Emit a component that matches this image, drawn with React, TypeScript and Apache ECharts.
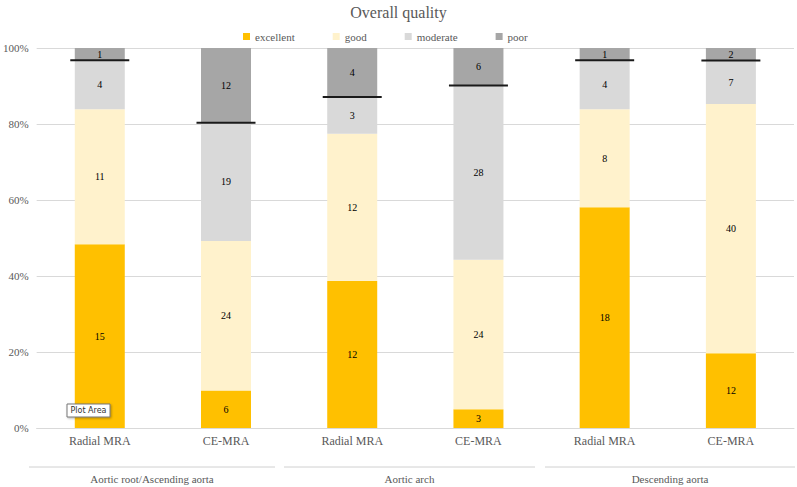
import React, { useEffect, useRef } from "react";
import * as echarts from "echarts";

const categories = ["Radial MRA", "CE-MRA", "Radial MRA", "CE-MRA", "Radial MRA", "CE-MRA"];
const groups = ["Aortic root/Ascending aorta", "Aortic arch", "Descending aorta"];
const excellent = [15, 6, 12, 3, 18, 12];
const good = [11, 24, 12, 24, 8, 40];
const moderate = [4, 19, 3, 28, 4, 7];
const poor = [1, 12, 4, 6, 1, 2];
const seriesNames = ["excellent", "good", "moderate", "poor"];
const colors = ["#FFC000", "#FFF2CC", "#D9D9D9", "#A6A6A6"];

const FONT = "Liberation Serif";

export default function App() {
  const ref = useRef<HTMLDivElement>(null);
  useEffect(() => {
    if (!ref.current) return;
    const chart = echarts.init(ref.current, null, { renderer: "svg" });
    const counts = [excellent, good, moderate, poor];
    const totals = categories.map((_, i) => counts.reduce((s, a) => s + a[i], 0));
    const pct = counts.map((arr) => arr.map((v, i) => (v / totals[i]) * 100));
    const lineLevels = categories.map((_, i) => [i, pct[0][i] + pct[1][i] + pct[2][i]]);

    const barSeries = counts.map((arr, k) => ({
      name: seriesNames[k],
      type: "bar",
      stack: "total",
      barWidth: 50,
      itemStyle: { color: colors[k] },
      label: {
        show: true,
        position: "inside",
        fontFamily: FONT,
        fontSize: 10,
        fontWeight: "normal",
        color: "#000",
        formatter: (p: any) => String(arr[p.dataIndex]),
      },
      data: pct[k],
    }));

    const groupLines = [
      { x1: 29, x2: 275 },
      { x1: 284, x2: 535 },
      { x1: 545, x2: 795 },
    ];

    chart.setOption({
      animation: false,
      textStyle: { fontFamily: FONT },
      title: {
        text: "Overall quality",
        left: "center",
        top: -1,
        textStyle: { fontFamily: FONT, fontSize: 16, fontWeight: "normal", color: "#595959" },
      },
      legend: {
        data: seriesNames,
        left: 238,
        top: 26,
        itemWidth: 7,
        itemHeight: 7,
        itemGap: 38,
        icon: "rect",
        textStyle: { fontFamily: FONT, fontSize: 11, fontWeight: "normal", color: "#595959" },
      },
      grid: { left: 35, right: 3, top: 48, bottom: 59 },
      xAxis: {
        type: "category",
        data: categories,
        axisLine: { show: true, lineStyle: { color: "#D9D9D9" } },
        axisTick: { show: false },
        axisLabel: { fontFamily: FONT, fontSize: 12, fontWeight: "normal", color: "#595959", margin: 7 },
      },
      yAxis: {
        type: "value",
        min: 0,
        max: 100,
        interval: 20,
        axisLine: { show: false },
        axisTick: { show: false },
        splitLine: { lineStyle: { color: "#D9D9D9" } },
        axisLabel: { fontFamily: FONT, fontSize: 11, fontWeight: "normal", color: "#595959", formatter: "{value}%", margin: 8 },
      },
      series: [
        ...barSeries,
        {
          type: "custom",
          name: "boundary",
          z: 10,
          renderItem: (params: any, api: any) => {
            const p = api.coord([api.value(0), api.value(1)]);
            const w = 59;
            return {
              type: "line",
              shape: { x1: p[0] - w / 2, y1: p[1], x2: p[0] + w / 2, y2: p[1] },
              style: { stroke: "#1a1a1a", lineWidth: 2 },
            };
          },
          data: lineLevels,
        },
      ],
      graphic: [
        ...groupLines.map((g) => ({
          type: "line",
          shape: { x1: g.x1, y1: 467, x2: g.x2, y2: 467 },
          style: { stroke: "#D0D0D0", lineWidth: 1 },
        })),
        ...groups.map((name, i) => ({
          type: "text",
          x: (groupLines[i].x1 + groupLines[i].x2) / 2,
          y: 479,
          style: {
            text: name,
            font: "11px 'Liberation Serif'",
            fill: "#595959",
            align: "center",
            verticalAlign: "middle",
          },
        })),
        {
          type: "rect",
          z: 100,
          shape: { x: 67, y: 404, width: 43, height: 13 },
          style: { fill: "#fff", stroke: "#767676", lineWidth: 1, shadowBlur: 2, shadowColor: "rgba(0,0,0,0.3)", shadowOffsetX: 1, shadowOffsetY: 1 },
        },
        {
          type: "text",
          z: 101,
          x: 88.5,
          y: 410.5,
          style: {
            text: "Plot Area",
            font: "8px 'DejaVu Sans'",
            fill: "#333",
            align: "center",
            verticalAlign: "middle",
          },
        },
      ],
    });
    return () => chart.dispose();
  }, []);
  return <div ref={ref} style={{ width: 797, height: 487, position: "absolute", left: 0, top: 0 }} />;
}
